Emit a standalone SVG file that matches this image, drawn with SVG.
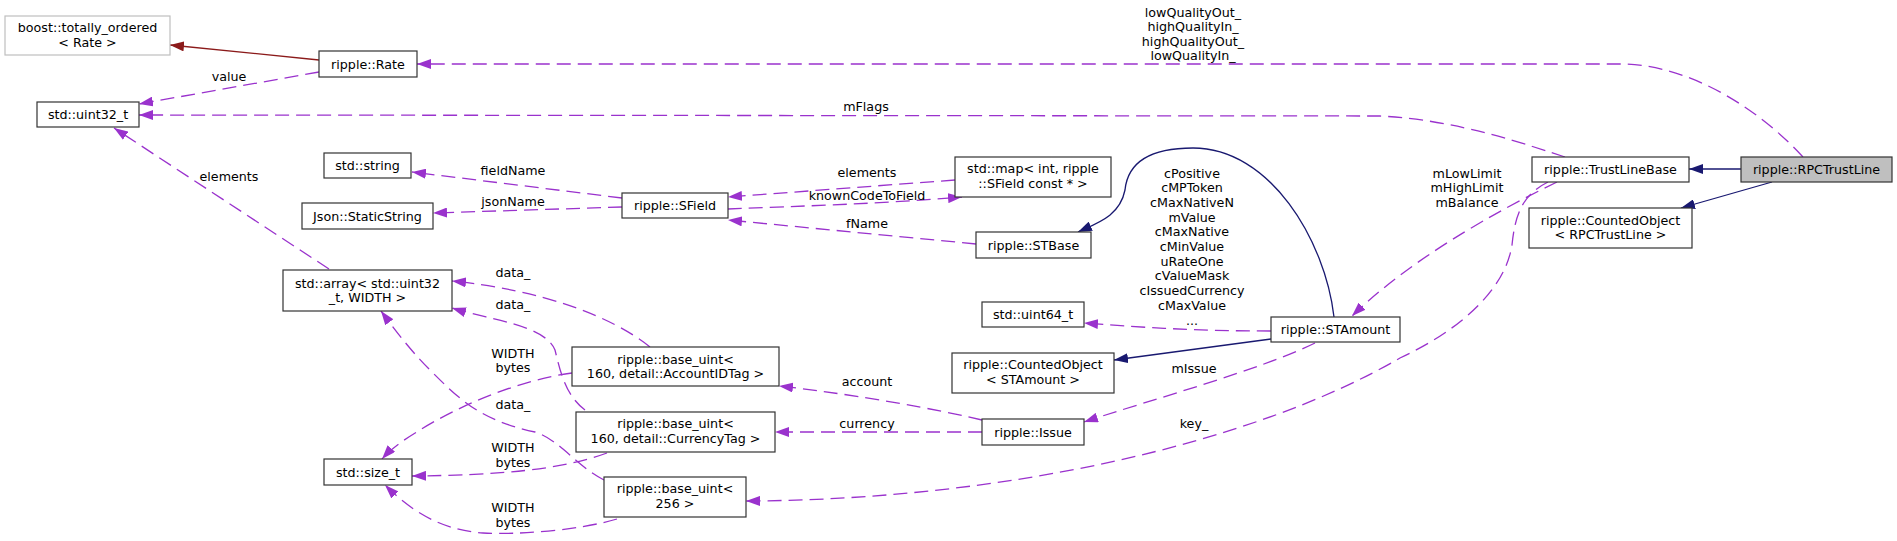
<svg xmlns="http://www.w3.org/2000/svg" width="1897" height="541" viewBox="0 0 1897 541">
<style>
text{font-family:"DejaVu Sans","Liberation Sans",sans-serif;font-size:12.7px;fill:#000;text-anchor:middle}
.n{fill:#fff;stroke:#333;stroke-width:1.2}
.g{fill:#fff;stroke:#bfbfbf;stroke-width:1.2}
.cur{fill:#bfbfbf;stroke:#333;stroke-width:1.2}
.u{fill:none;stroke:#9a32cd;stroke-width:1.3;stroke-dasharray:14 7;marker-end:url(#ap)}
.i{fill:none;stroke:#191970;stroke-width:1.3;marker-end:url(#an)}
.r{fill:none;stroke:#8b1a1a;stroke-width:1.3;marker-end:url(#ar)}
</style>
<defs>
<marker id="ap" viewBox="0 0 14 10" refX="14" refY="5" markerWidth="14" markerHeight="10" markerUnits="userSpaceOnUse" orient="auto"><path d="M0,0 L14,5 L0,10 z" fill="#9a32cd"/></marker>
<marker id="an" viewBox="0 0 14 10" refX="14" refY="5" markerWidth="14" markerHeight="10" markerUnits="userSpaceOnUse" orient="auto"><path d="M0,0 L14,5 L0,10 z" fill="#191970"/></marker>
<marker id="ar" viewBox="0 0 14 10" refX="14" refY="5" markerWidth="14" markerHeight="10" markerUnits="userSpaceOnUse" orient="auto"><path d="M0,0 L14,5 L0,10 z" fill="#8b1a1a"/></marker>
</defs>
<rect width="1897" height="541" fill="#fff"/>
<g id="edges">
<path class="r" d="M319,60 L170,45"/>
<path class="u" d="M319,72 L139,104"/>
<path class="u" d="M1803,157 C1760,110 1690,64 1620,64 L417,64"/>
<path class="u" d="M1565,157 C1530,146 1460,120 1380,116 L139,115"/>
<path class="u" d="M329,269 L114,128"/>
<path class="u" d="M622,198 L412,172"/>
<path class="u" d="M622,207 L433,213"/>
<path class="u" d="M955,180 L728,197"/>
<path class="u" d="M728,209 C800,206 880,204 962,197"/>
<path class="u" d="M976,244 L728,220"/>
<path class="i" d="M1334,317 C1325,240 1270,148 1193,148 C1140,148 1127,170 1125,190 C1120,215 1100,222 1078,232"/>
<path class="u" d="M1271,331 C1200,331 1150,328 1084,323"/>
<path class="i" d="M1271,339 L1114,360"/>
<path class="u" d="M1315,343 C1260,370 1150,400 1084,422"/>
<path class="u" d="M1557,182 C1520,200 1420,250 1352,316"/>
<path class="u" d="M1548,182 C1522,195 1515,215 1512,245 C1505,290 1460,330 1400,358 C1250,445 1000,500 746,501"/>
<path class="u" d="M982,420 C940,410 860,395 779,386"/>
<path class="u" d="M982,432 L775,432"/>
<path class="u" d="M650,347 C610,315 540,290 452,281"/>
<path class="u" d="M585,410 C565,395 560,370 555,350 C545,325 490,320 452,308"/>
<path class="u" d="M604,480 C575,465 560,440 535,432 C480,420 460,400 430,370 C410,350 395,330 381,311"/>
<path class="u" d="M572,373 C520,380 460,405 420,430 C400,442 390,450 382,459"/>
<path class="u" d="M607,453 C560,470 500,475 412,476"/>
<path class="u" d="M617,519 C580,530 520,535 483,533 C440,530 410,510 385,485"/>
<path class="i" d="M1741,169 L1689,169"/>
<path class="i" d="M1772,182 L1681,208"/>
<text x="229" y="80.5">value</text>
<text x="1193" y="16.5">lowQualityOut_</text>
<text x="1193" y="31">highQualityIn_</text>
<text x="1193" y="45.5">highQualityOut_</text>
<text x="1193" y="60">lowQualityIn_</text>
<text x="866" y="110.5">mFlags</text>
<text x="229" y="180.5">elements</text>
<text x="513" y="174.5">fieldName</text>
<text x="513" y="205.5">jsonName</text>
<text x="867" y="176.5">elements</text>
<text x="867" y="199.5">knownCodeToField</text>
<text x="867" y="227.5">fName</text>
<text x="513" y="276.5">data_</text>
<text x="513" y="308.5">data_</text>
<text x="513" y="408.5">data_</text>
<text x="513" y="357.5">WIDTH</text>
<text x="513" y="371.5">bytes</text>
<text x="513" y="451.5">WIDTH</text>
<text x="513" y="466.5">bytes</text>
<text x="513" y="511.5">WIDTH</text>
<text x="513" y="526.5">bytes</text>
<text x="867" y="385.5">account</text>
<text x="867" y="427.5">currency</text>
<text x="1192" y="177.5">cPositive</text>
<text x="1192" y="192.2">cMPToken</text>
<text x="1192" y="206.9">cMaxNativeN</text>
<text x="1192" y="221.6">mValue</text>
<text x="1192" y="236.3">cMaxNative</text>
<text x="1192" y="251">cMinValue</text>
<text x="1192" y="265.7">uRateOne</text>
<text x="1192" y="280.4">cValueMask</text>
<text x="1192" y="295.1">cIssuedCurrency</text>
<text x="1192" y="309.8">cMaxValue</text>
<text x="1192" y="324.5">...</text>
<text x="1194" y="372.5">mIssue</text>
<text x="1194" y="427.5">key_</text>
<text x="1467" y="177.5">mLowLimit</text>
<text x="1467" y="192">mHighLimit</text>
<text x="1467" y="206.5">mBalance</text>
</g>
<g id="n_boost"><rect class="g" x="5" y="16" width="165" height="39"/><text x="87.5" y="31.5">boost::totally_ordered</text><text x="87.5" y="46.5">&lt; Rate &gt;</text></g>
<g id="n_rate"><rect class="n" x="319" y="51" width="98" height="26"/><text x="368" y="68.5">ripple::Rate</text></g>
<g id="n_uint32"><rect class="n" x="37" y="102" width="102" height="25"/><text x="88" y="119">std::uint32_t</text></g>
<g id="n_string"><rect class="n" x="324" y="153" width="87" height="25"/><text x="367.5" y="170">std::string</text></g>
<g id="n_json"><rect class="n" x="302" y="203" width="131" height="26"/><text x="367.5" y="220.5">Json::StaticString</text></g>
<g id="n_array"><rect class="n" x="283" y="270" width="169" height="41"/><text x="367.5" y="287.5">std::array&lt; std::uint32</text><text x="367.5" y="302">_t, WIDTH &gt;</text></g>
<g id="n_sizet"><rect class="n" x="324" y="459" width="88" height="26"/><text x="368" y="476.5">std::size_t</text></g>
<g id="n_sfield"><rect class="n" x="622" y="193" width="106" height="25"/><text x="675" y="210">ripple::SField</text></g>
<g id="n_acct"><rect class="n" x="572" y="347" width="207" height="39"/><text x="675.5" y="363.5">ripple::base_uint&lt;</text><text x="675.5" y="378"> 160, detail::AccountIDTag &gt;</text></g>
<g id="n_curr"><rect class="n" x="576" y="412" width="199" height="40"/><text x="675.5" y="428">ripple::base_uint&lt;</text><text x="675.5" y="443"> 160, detail::CurrencyTag &gt;</text></g>
<g id="n_b256"><rect class="n" x="604" y="477" width="142" height="40"/><text x="675" y="493">ripple::base_uint&lt;</text><text x="675" y="508"> 256 &gt;</text></g>
<g id="n_map"><rect class="n" x="955" y="157" width="156" height="40"/><text x="1033" y="173">std::map&lt; int, ripple</text><text x="1033" y="187.5">::SField const * &gt;</text></g>
<g id="n_stbase"><rect class="n" x="976" y="232" width="115" height="26"/><text x="1033.5" y="249.5">ripple::STBase</text></g>
<g id="n_uint64"><rect class="n" x="982" y="302" width="102" height="25"/><text x="1033" y="319">std::uint64_t</text></g>
<g id="n_coSTA"><rect class="n" x="952" y="353" width="162" height="40"/><text x="1033" y="369">ripple::CountedObject</text><text x="1033" y="383.5">&lt; STAmount &gt;</text></g>
<g id="n_issue"><rect class="n" x="982" y="419" width="102" height="26"/><text x="1033" y="436.5">ripple::Issue</text></g>
<g id="n_stamount"><rect class="n" x="1271" y="317" width="129" height="25"/><text x="1335.5" y="334">ripple::STAmount</text></g>
<g id="n_tlb"><rect class="n" x="1532" y="157" width="157" height="25"/><text x="1610.5" y="174">ripple::TrustLineBase</text></g>
<g id="n_rpc"><rect class="cur" x="1741" y="157" width="151" height="25"/><text x="1816.5" y="174">ripple::RPCTrustLine</text></g>
<g id="n_coRPC"><rect class="n" x="1529" y="208" width="163" height="40"/><text x="1610.5" y="224.5">ripple::CountedObject</text><text x="1610.5" y="239">&lt; RPCTrustLine &gt;</text></g>
</svg>
